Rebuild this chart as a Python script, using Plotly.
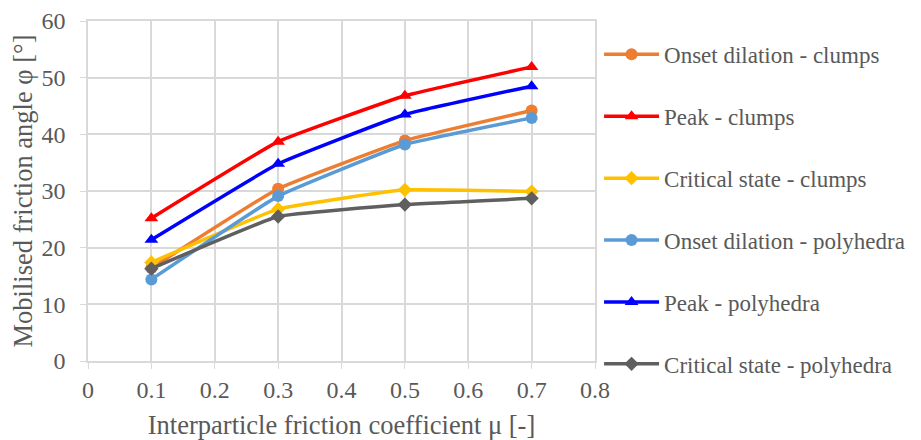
import plotly.graph_objects as go

mu = [0.1, 0.3, 0.5, 0.7]
onset_clumps = [16.4, 30.4, 38.9, 44.2]
peak_clumps = [25.2, 38.7, 46.8, 51.9]
critical_clumps = [17.4, 26.8, 30.2, 29.9]
onset_poly = [14.4, 29.1, 38.2, 42.9]
peak_poly = [21.4, 34.8, 43.5, 48.5]
critical_poly = [16.3, 25.5, 27.6, 28.7]

series = [
    ("Onset dilation - clumps", onset_clumps, "#ED7D31", "circle", 12),
    ("Peak - clumps", peak_clumps, "#FF0000", "triangle-up", 12),
    ("Critical state - clumps", critical_clumps, "#FFC000", "diamond", 11),
    ("Onset dilation - polyhedra", onset_poly, "#5B9BD5", "circle", 12),
    ("Peak - polyhedra", peak_poly, "#0000FF", "triangle-up", 12),
    ("Critical state - polyhedra", critical_poly, "#5F5F5F", "diamond", 11),
]

fig = go.Figure()
for i, (name, ys, color, sym, size) in enumerate(series):
    fig.add_trace(go.Scatter(
        x=mu, y=ys, name=name, mode="lines+markers",
        line=dict(color=color, width=3.5, shape="spline", smoothing=0.3),
        marker=dict(color=color, symbol=sym, size=size),
        legendgroup=f"g{i}",
    ))

font_family = "Liberation Serif, Times New Roman, serif"
txt = "#595959"
# page body has an 8px margin: figure is 913x432, offset by (8, 8)
fig.update_layout(
    width=913, height=432,
    margin=dict(l=80, r=326, t=13, b=79, autoexpand=False),
    paper_bgcolor="white", plot_bgcolor="white",
    font=dict(family=font_family, color=txt, size=24),
    legend=dict(x=1.008, y=0.965, xanchor="left", yanchor="top",
                font=dict(size=23, color=txt), tracegroupgap=29,
                itemwidth=55, maxheight=430, bgcolor="rgba(0,0,0,0)"),
    xaxis=dict(range=[0, 0.8], dtick=0.1, tick0=0, showgrid=True,
               gridcolor="#D9D9D9", gridwidth=1.5, zeroline=False,
               showline=True, linecolor="#D9D9D9", linewidth=1.5, mirror=True,
               ticks="outside", tickcolor="#D9D9D9", ticklen=6,
               ticklabelstandoff=0,
               tickfont=dict(size=24, color=txt), automargin=False,
               title=dict(text="Interparticle friction coefficient μ [-]",
                          font=dict(size=26.5, color=txt), standoff=18)),
    yaxis=dict(range=[0, 60], dtick=10, showgrid=True,
               gridcolor="#D9D9D9", gridwidth=1.5, zeroline=False,
               showline=True, linecolor="#D9D9D9", linewidth=1.5, mirror=True,
               ticks="outside", tickcolor="#D9D9D9", ticklen=6,
               ticklabelstandoff=10,
               tickfont=dict(size=24, color=txt), automargin=False,
               title=dict(text="Mobilised friction angle φ [°]",
                          font=dict(size=26.5, color=txt), standoff=8)),
)
fig.write_html("out.html")
